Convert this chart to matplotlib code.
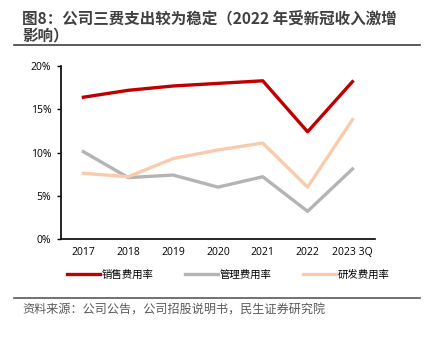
import matplotlib.pyplot as plt
from matplotlib.lines import Line2D
from matplotlib.ticker import FuncFormatter

plt.rcParams['font.family'] = ['Noto Sans CJK SC', 'DejaVu Sans']

# data (percent)
years = ['2017', '2018', '2019', '2020', '2021', '2022', '2023 3Q']
sales_rate = [16.4, 17.2, 17.7, 18.0, 18.3, 12.4, 18.2]
admin_rate = [10.1, 7.1, 7.4, 6.0, 7.2, 3.2, 8.1]
rd_rate = [7.6, 7.2, 9.3, 10.3, 11.1, 6.0, 13.8]
labels = ['销售费用率', '管理费用率', '研发费用率']
colors = ['#C00000', '#B4B4B4', '#F8CBAD']

fig = plt.figure(figsize=(4.25, 3.39), dpi=100)
ax = fig.add_axes([0.1435, 0.295, 0.7385, 0.51])

x = range(len(years))
for vals, c, lab in zip([sales_rate, admin_rate, rd_rate], colors, labels):
    ax.plot(x, vals, color=c, lw=2.4, label=lab, zorder=3)

ax.set_xlim(-0.5, len(years) - 0.5)
ax.set_ylim(0, 20)
ax.set_yticks([0, 5, 10, 15, 20])
ax.yaxis.set_major_formatter(FuncFormatter(lambda v, p: '%d%%' % v))
ax.set_xticks(list(x))
ax.set_xticklabels(years)
ax.tick_params(axis='x', length=0, pad=6, labelsize=7.5, colors='#000000')
ax.tick_params(axis='y', length=3, width=1, direction='out', labelsize=7.5, pad=4)
for lbl in ax.get_xticklabels() + ax.get_yticklabels():
    lbl.set_family('Open Sans')
for s in ['top', 'right']:
    ax.spines[s].set_visible(False)
ax.spines['left'].set_linewidth(1.2)
ax.spines['bottom'].set_linewidth(1.2)

handles = [Line2D([0], [0], color=c, lw=2.4) for c in colors]
fig.legend(handles, labels, loc='center', bbox_to_anchor=(0.537, 0.19), ncol=3,
           frameon=False, fontsize=7.5, handlelength=3.2, handletextpad=0.15,
           columnspacing=3.0)

# title and source
fig.text(0.052, 0.968, '图8：公司三费支出较为稳定（2022 年受新冠收入激增\n影响）',
         fontsize=11.2, fontweight='bold', color='#404040', va='top', ha='left',
         linespacing=1.05)
fig.add_artist(Line2D([0.033, 0.988], [0.867, 0.867], color='#404040', lw=1.2))
fig.add_artist(Line2D([0.033, 0.988], [0.121, 0.121], color='#595959', lw=1.2))
fig.text(0.052, 0.085, '资料来源：公司公告，公司招股说明书，民生证券研究院',
         fontsize=8.7, color='#595959', va='center', ha='left')

fig.savefig('out.png', dpi=100)
